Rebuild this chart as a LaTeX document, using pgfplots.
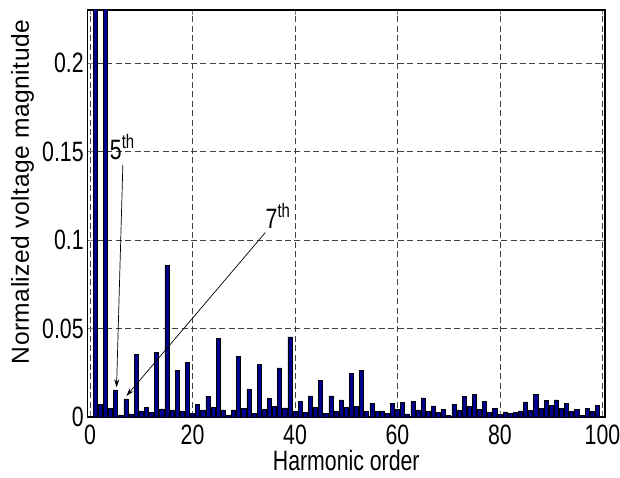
\documentclass[border=0pt]{standalone}
\usepackage{fontspec}
\setmainfont[FakeStretch=0.76]{Liberation Sans}
\newfontfamily\ylabfont[LetterSpace=2]{Liberation Sans}
\usepackage{pgfplots}
\pgfplotsset{compat=1.18}
\usetikzlibrary{arrows.meta}
\definecolor{barblue}{rgb}{0,0,0.55}
\begin{document}
\begin{tikzpicture}
\path[use as bounding box] (0,0) rectangle (310pt,238.5pt);
\begin{axis}[
  at={(43.75pt,30pt)}, anchor=south west,
  scale only axis, width=258.75pt, height=203.5pt,
  xmin=-0.5, xmax=100.5, ymin=0, ymax=0.23,
  xtick={0,20,40,60,80,100},
  ytick={0,0.05,0.1,0.15,0.2},
  yticklabels={0,0.05,0.1,0.15,0.2},
  scaled y ticks=false,
  /pgf/number format/assume math mode=true,
  tick label style={font=\fontsize{14}{16}\selectfont, inner sep=0pt},
  yticklabel style={anchor=east, xshift=-1.75pt},
  xticklabel style={anchor=north, yshift=-4pt},
  tick align=inside, major tick length=2.5pt,
  grid=major,
  major grid style={dash pattern=on 3pt off 1.7pt, black!75, line width=0.4pt},
  axis line style={line width=0.6pt},
  xlabel={Harmonic order},
  xlabel style={font=\fontsize{14}{16}\selectfont, at={(axis description cs:0.5,0)}, anchor=center, yshift=-21.5pt},
  ylabel={\ylabfont Normalized voltage magnitude},
  ylabel style={font=\fontsize{12.3}{14}\selectfont, at={([xshift=-32.5pt]axis description cs:0,0.553)}, anchor=center},
  clip=true,
]
\addplot[ybar, bar width=0.8, fill=barblue, draw=black, line width=0.3pt] coordinates {
(1,1.0) (2,0.0069) (3,0.35) (4,0.005) (5,0.0153) (6,0.0012) (7,0.0102) (8,0.0018) (9,0.0352) (10,0.0035)
(11,0.0055) (12,0.0025) (13,0.0365) (14,0.0046) (15,0.0856) (16,0.004) (17,0.0262) (18,0.0035) (19,0.0309) (20,0.0022)
(21,0.0072) (22,0.004) (23,0.0116) (24,0.0055) (25,0.0446) (26,0.004) (27,0.0012) (28,0.004) (29,0.0344) (30,0.005)
(31,0.0159) (32,0.0022) (33,0.0299) (34,0.0045) (35,0.0104) (36,0.0059) (37,0.0277) (38,0.0052) (39,0.0453) (40,0.0031)
(41,0.0087) (42,0.0025) (43,0.0119) (44,0.0055) (45,0.0209) (46,0.002) (47,0.0119) (48,0.0031) (49,0.0097) (50,0.0055)
(51,0.0247) (52,0.0059) (53,0.0264) (54,0.0031) (55,0.0076) (56,0.003) (57,0.0035) (58,0.0022) (59,0.0078) (60,0.0044)
(61,0.0082) (62,0.0018) (63,0.0087) (64,0.004) (65,0.0108) (66,0.0031) (67,0.0063) (68,0.0025) (69,0.0044) (70,0.0008)
(71,0.0069) (72,0.004) (73,0.0116) (74,0.0059) (75,0.0129) (76,0.0044) (77,0.0087) (78,0.0025) (79,0.005) (80,0.0016)
(81,0.0029) (82,0.002) (83,0.0025) (84,0.0035) (85,0.0085) (86,0.0037) (87,0.0129) (88,0.005) (89,0.0093) (90,0.0066)
(91,0.0097) (92,0.005) (93,0.0076) (94,0.0031) (95,0.0044) (96,0.001) (97,0.0048) (98,0.0031) (99,0.0065)
};
\draw[line width=0.35pt, -{Stealth[length=4pt, width=2.5pt]}] (axis cs:6.4,0.1423) -- (axis cs:5.17,0.0168);
\draw[line width=0.35pt, -{Stealth[length=4pt, width=2.5pt]}] (axis cs:34.2,0.1042) -- (axis cs:7.1,0.0119);
\node[anchor=base west, inner sep=0pt, font=\fontsize{14}{16}\selectfont] at (axis cs:3.8,0.1457) {5\textsuperscript{th}};
\node[anchor=base west, inner sep=0pt, font=\fontsize{14}{16}\selectfont] at (axis cs:34.2,0.1068) {7\textsuperscript{th}};
\end{axis}
\end{tikzpicture}
\end{document}
